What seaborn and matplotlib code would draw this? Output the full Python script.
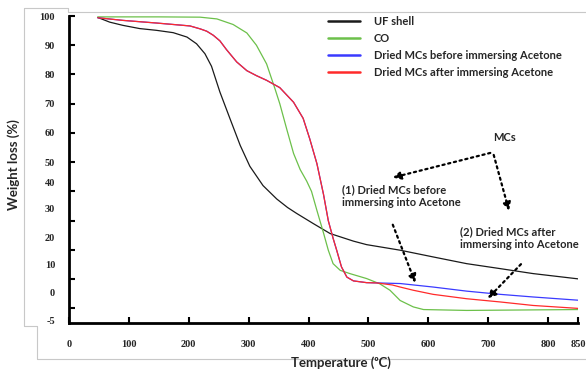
import pandas as pd
import seaborn as sns
import matplotlib.pyplot as plt
from matplotlib.lines import Line2D

# TGA curves (temperature in C, weight in %)
uf_temp = [48, 68, 90, 118, 146, 174, 197, 213, 227, 238, 252, 269, 286, 302, 324, 347, 365, 380,
           408, 436, 475, 497, 553, 608, 664, 720, 775, 850]
uf_weight = [99.5, 97.9, 96.8, 95.7, 95.1, 94.3, 92.8, 90.5, 87.1, 82.8, 74.0, 64.8, 55.7, 48.6,
             42.0, 37.4, 34.5, 32.5, 29.0, 25.6, 23.0, 21.8, 19.9, 17.6, 15.3, 13.6, 11.9, 10.1]

co_temp = [48, 150, 219, 247, 274, 297, 313, 330, 344, 352, 364, 375, 386, 397, 405, 414, 425, 433,
           441, 453, 469, 497, 519, 536, 553, 575, 592, 664, 850]
co_weight = [99.7, 99.7, 99.6, 99.0, 97.1, 94.2, 90.0, 83.6, 75.1, 70.0, 61.0, 53.0, 47.5, 43.5,
             40.0, 33.5, 25.8, 19.9, 15.3, 13.0, 11.9, 10.2, 8.4, 6.2, 2.7, 0.5, -0.4, -0.7, -0.4]

before_temp = [48, 90, 146, 202, 219, 230, 241, 252, 263, 280, 297, 313, 330, 352, 375, 391, 402,
               414, 425, 433, 441, 447, 455, 464, 475, 497, 553, 608, 664, 720, 775, 850]
before_weight = [99.4, 98.5, 97.6, 96.6, 95.6, 94.8, 93.4, 91.5, 88.5, 84.3, 81.3, 79.6, 78.0, 75.5,
                 70.5, 65.0, 58.0, 49.5, 39.0, 30.0, 24.0, 19.9, 14.2, 10.7, 9.4, 8.8, 8.5, 7.3,
                 5.9, 4.8, 3.9, 2.8]

after_temp = [48, 90, 146, 202, 219, 230, 241, 252, 263, 280, 297, 313, 330, 352, 375, 391, 402,
              414, 425, 433, 441, 447, 455, 464, 475, 497, 514, 540, 553, 575, 608, 664, 720, 775, 850]
after_weight = [99.4, 98.5, 97.6, 96.6, 95.6, 94.8, 93.4, 91.5, 88.5, 84.3, 81.3, 79.6, 78.0, 75.5,
                70.5, 65.0, 58.0, 49.5, 39.0, 30.0, 24.0, 19.9, 14.2, 10.7, 9.4, 8.8, 8.7, 8.0, 7.3,
                6.2, 4.8, 3.3, 2.2, 1.0, 0.0]

series_names = ['UF shell', 'CO', 'Dried MCs before immersing Acetone', 'Dried MCs after immersing Acetone']
series_colors = ['#1a1a1a', '#6cc04a', '#3a3aff', '#ff2a2a']

xtick_values = [0, 100, 200, 300, 400, 500, 600, 700, 800, 850]
ytick_values = [100, 90, 80, 70, 60, 50, 40, 30, 20, 10, 0]
ytick_labels = ['100', '90', '80', '70', '60', '50', '40', '30', '20', '10', '0', '-5']
# the reference's y labels drift away from the tick marks near the bottom
ytick_label_pos = [100, 90, 80, 70, 60, 50, 43.2, 34.2, 24.3, 15.1, 5.5, -4.1]

frames = []
for name, t, w in zip(series_names,
                      [uf_temp, co_temp, before_temp, after_temp],
                      [uf_weight, co_weight, before_weight, after_weight]):
    frames.append(pd.DataFrame({'temp': t, 'weight': w, 'sample': name}))
df = pd.concat(frames, ignore_index=True)

sns.set_theme(style='white')
plt.rcParams['font.family'] = ['Lato', 'DejaVu Sans']

fig = plt.figure(figsize=(5.86, 3.73), dpi=100)
ax = fig.add_axes([69 / 586, 50 / 373, 509 / 586, 307 / 373])

sns.lineplot(data=df, x='temp', y='weight', hue='sample', hue_order=series_names,
             palette=dict(zip(series_names, series_colors)), estimator=None,
             sort=False, lw=0.9, ax=ax)

ax.set_xlim(0, 850)
ax.set_ylim(-5, 100)
sns.despine(ax=ax)
for side in ['left', 'bottom']:
    ax.spines[side].set_color('black')
    ax.spines[side].set_linewidth(2)

tick_font = dict(family='Liberation Serif', weight='bold', size=7.5)
ax.set_xticks(xtick_values)
ax.set_xticklabels([str(v) for v in xtick_values], fontdict=tick_font)
ax.yaxis.remove_overlapping_locs = False
ax.set_yticks(ytick_values)
ax.set_yticklabels([])
ax.set_yticks(ytick_label_pos, minor=True)
ax.set_yticklabels(ytick_labels, minor=True, fontdict=tick_font)
ax.tick_params(axis='x', which='major', direction='in', bottom=True, length=4, width=1.5,
               color='black', pad=12)
ax.tick_params(axis='y', which='major', direction='in', left=True, length=4, width=1.5,
               color='black')
ax.tick_params(axis='y', which='minor', left=True, length=0, pad=10)
ax.set_xlabel('')
ax.set_ylabel('')

fig.text(341 / 586, 1 - 363 / 373, 'Temperature (\u1d52C)', ha='center', va='center',
         fontsize=9.5, fontweight='bold')
fig.text(14 / 586, 1 - 165 / 373, 'Weight loss (%)', ha='center', va='center',
         rotation=90, fontsize=9.5, fontweight='bold')

sns.move_legend(ax, loc='upper left', bbox_to_anchor=(328 / 586, 1 - 16 / 373),
                bbox_transform=fig.transFigure, frameon=False, title=None,
                fontsize=8, handlelength=2.9, handletextpad=1.2, labelspacing=0.55,
                borderpad=0, borderaxespad=0)
for line in ax.get_legend().get_lines():
    line.set_linewidth(1.8)
for txt in ax.get_legend().get_texts():
    txt.set_fontweight('bold')

# annotations with dotted arrows
arrow = dict(arrowstyle='-|>', linestyle=':', lw=1.6, color='black', mutation_scale=12)
ann_font = dict(fontsize=8, fontweight='bold')
ax.text(728, 58.6, 'MCs', ha='center', va='center', **ann_font)
ax.annotate('', xy=(536, 44.5), xytext=(708, 53.4), arrowprops=arrow)
ax.annotate('', xy=(736, 32.5), xytext=(708, 53.4), arrowprops=arrow)
ax.text(456, 42.5, '(1) Dried MCs before\nimmersing into Acetone', ha='left', va='top',
        linespacing=1.2, **ann_font)
ax.annotate('', xy=(580, 7.9), xytext=(539, 29.5), arrowprops=arrow)
ax.text(653, 28.2, '(2) Dried MCs after\nimmersing into Acetone', ha='left', va='top',
        linespacing=1.2, **ann_font)
ax.annotate('', xy=(696, 2.7), xytext=(758, 15.8), arrowprops=arrow)

# light grey outline of the pasted chart area
grey = '#c8c8c8'
outline = [([24, 68], [8, 8]), ([68, 68], [8, 12]), ([68, 586], [12, 12]),
           ([24, 24], [8, 326]), ([24, 37], [326, 326]), ([37, 37], [326, 359]),
           ([37, 586], [359, 359])]
for xs, ys in outline:
    fig.add_artist(Line2D([x / 586 for x in xs], [1 - y / 373 for y in ys],
                          color=grey, lw=0.8, zorder=0))

fig.savefig('out.png', dpi=100)
